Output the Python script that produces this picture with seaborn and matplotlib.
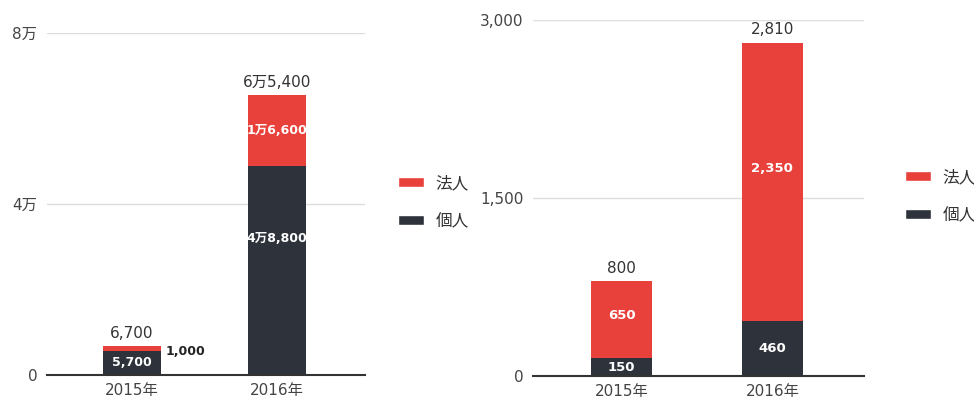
import matplotlib
matplotlib.use("Agg")
import matplotlib.pyplot as plt
import seaborn as sns
import pandas as pd
from matplotlib.patches import Patch

sns.set_theme(style="white")
plt.rcParams['font.family'] = ['DejaVu Sans', 'Noto Sans CJK JP']

years = ["2015年", "2016年"]
series = ["法人", "個人"]
# left chart
left_kojin = [5700, 48800]
left_hojin = [1000, 16600]
left_ticks = [0, 40000, 80000]
# right chart
right_kojin = [150, 460]
right_hojin = [650, 2350]
right_ticks = [0, 1500, 3000]

RED = "#E8403A"
DARK = "#2E333B"


def fmt_man(v):
    v = int(v)
    if v >= 10000:
        m, r = divmod(v, 10000)
        return f"{m}万" if r == 0 else f"{m}万{r:,}"
    return f"{v:,}"


def fmt_plain(v):
    return f"{int(v):,}"


fig = plt.figure(figsize=(9.74, 4.09), dpi=100)
axL = fig.add_axes([47/974, 1-375/409, (365-47)/974, (375-33)/409])
axR = fig.add_axes([533/974, 1-376/409, (864-533)/974, (376-20)/409])


def draw(ax, kojin, hojin, ticks, fmt, inner_pos, side_label_first, inner_size):
    total = [k + h for k, h in zip(kojin, hojin)]
    df = pd.DataFrame({"year": years, "total": total, "kojin": kojin, "hojin": hojin})
    sns.barplot(data=df, x="year", y="total", color=RED, saturation=1, width=0.40,
                linewidth=0, ax=ax)
    sns.barplot(data=df, x="year", y="kojin", color=DARK, saturation=1, width=0.40,
                linewidth=0, ax=ax)
    ax.set_xlim(-0.586, 1.607)
    ax.set_ylim(ticks[0], ticks[-1])
    ax.set_yticks(ticks)
    ax.set_yticklabels([fmt(t) for t in ticks])
    ax.set_xlabel("")
    ax.set_ylabel("")
    for s in ["top", "right", "left"]:
        ax.spines[s].set_visible(False)
    ax.spines["bottom"].set_color("#333333")
    ax.spines["bottom"].set_linewidth(1.5)
    ax.grid(axis="y", color="#dddddd", linewidth=1)
    ax.set_axisbelow(True)
    ax.tick_params(axis="both", length=0, labelsize=11, colors="#444444")
    ax.tick_params(axis="y", pad=7)
    ax.tick_params(axis="x", pad=6)
    for i in range(len(years)):
        ax.annotate(fmt(total[i]), (i, total[i]), xytext=(0, 4), textcoords="offset points",
                    ha="center", va="bottom", fontsize=11, color="#333333")
        ax.text(i, kojin[i] * inner_pos[i][0], fmt(kojin[i]), ha="center", va="center",
                color="white", fontweight="bold", fontsize=inner_size)
        if side_label_first and i == 0:
            ax.annotate(fmt(hojin[i]), (i + 0.2, kojin[i] + hojin[i] / 2), xytext=(3, -2),
                        textcoords="offset points", ha="left", va="center",
                        color="#222222", fontweight="bold", fontsize=inner_size)
        else:
            ax.text(i, kojin[i] + hojin[i] * inner_pos[i][1], fmt(hojin[i]), ha="center",
                    va="center", color="white", fontweight="bold", fontsize=inner_size)


draw(axL, left_kojin, left_hojin, left_ticks, fmt_man, [(0.5, 0.5), (0.656, 0.5)], True, 9)
draw(axR, right_kojin, right_hojin, right_ticks, fmt_plain, [(0.5, 0.55), (0.5, 0.55)], False, 9.5)

handles = [Patch(facecolor=RED, label=series[0]), Patch(facecolor=DARK, label=series[1])]
for x, y in [(398/974, 1-202/409), (905/974, 1-196/409)]:
    fig.legend(handles=handles, loc="center left", bbox_to_anchor=(x, y), frameon=False,
               fontsize=12, handlelength=1.55, handleheight=0.5, handletextpad=0.7,
               labelspacing=1.2, labelcolor="#333333", borderpad=0, borderaxespad=0)

fig.savefig("out.png", dpi=100)
